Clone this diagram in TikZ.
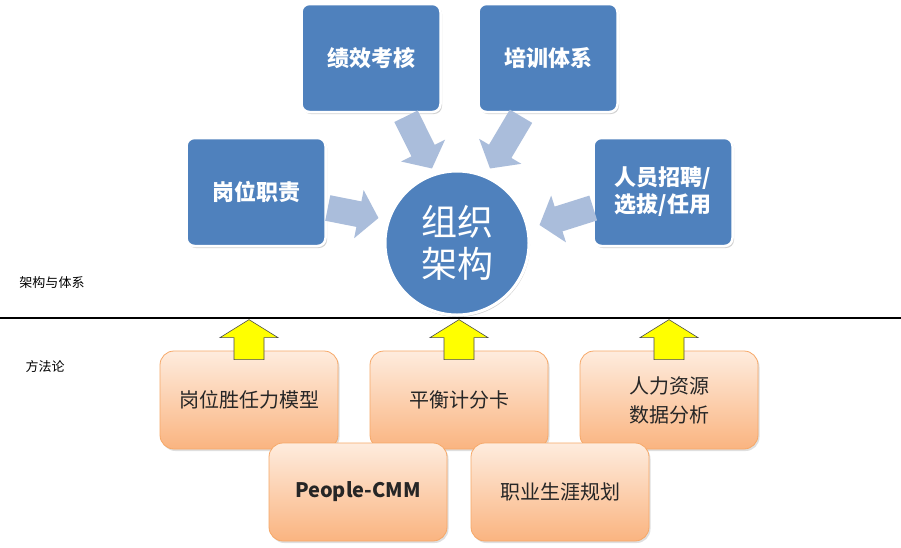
\documentclass[tikz,border=0pt]{standalone}
\usepackage{fontspec}
\setmainfont{Noto Sans CJK SC}
\usetikzlibrary{arrows.meta,shadows,calc}

\definecolor{boxblue}{RGB}{79,129,189}
\definecolor{flowblue}{RGB}{170,189,219}
\definecolor{peachtop}{RGB}{254,236,222}
\definecolor{peachbot}{RGB}{250,180,128}
\definecolor{peachline}{RGB}{246,168,104}
\definecolor{liftyellow}{RGB}{255,255,0}

\tikzset{
  topic/.style={draw=white, line width=2.5pt, fill=boxblue, rounded corners=8pt,
    text=white, font=\bfseries\fontsize{22}{27}\selectfont, align=center,
    minimum width=139pt, minimum height=108pt,
    drop shadow={opacity=0.35, shadow xshift=1.5pt, shadow yshift=-2pt}},
  hub/.style={circle, draw=white, line width=3pt, fill=boxblue, text=white,
    font=\fontsize{36}{42}\selectfont, align=center, minimum size=144pt,
    drop shadow={opacity=0.35, shadow xshift=1pt, shadow yshift=-2pt}},
  method/.style={draw=peachline, line width=0.8pt, rounded corners=14pt,
    top color=peachtop, bottom color=peachbot, text=black!85,
    font=\fontsize{20}{29}\selectfont, align=center,
    minimum width=178pt, minimum height=98pt,
    drop shadow={opacity=0.25, shadow xshift=1.5pt, shadow yshift=-2pt}},
  flow/.style={draw=flowblue, line width=26pt,
    -{Triangle[width=48pt,length=20pt]}},
  lift/.style={draw=black!70, line width=0.6pt, fill=liftyellow},
  tag/.style={font=\fontsize{13}{15}\selectfont}
}

\begin{document}
\begin{tikzpicture}[x=1pt,y=-1pt]
\fill[white] (0,0) rectangle (901,547);
\useasboundingbox (0,0) rectangle (901,547);

% upper half: structure
\node[topic] (perf) at (371,58) {绩效考核};
\node[topic] (train) at (548,58) {培训体系};
\node[topic] (duty) at (256,192) {岗位职责};
\node[topic] (recruit) at (663,192) {人员招聘/\\选拔/任用};
\node[hub] (org) at (457,243) {组织\\架构};

\draw[flow] ($(duty.east)+(1,16)$) -- ($(org.west)+(-5,-25)$);
\draw[flow] ($(perf.south)+(35,3)$) -- ($(org.north)+(-25,-1)$);
\draw[flow] ($(train.south)+(-27,3)$) -- ($(org.north)+(33,-1)$);
\draw[flow] ($(recruit.west)+(1,16)$) -- ($(org.east)+(9,-18)$);

\draw[line width=2.5pt] (0,318) -- (901,318);
\node[tag] (lblarch) at (52,283) {架构与体系};
\node[tag] (lblmeth) at (45,367) {方法论};

% lower half: methods
\node[method] (comp) at (249,400) {岗位胜任力模型};
\node[method] (bsc) at (459,400) {平衡计分卡};
\node[method] (hrda) at (669,400) {人力资源\\数据分析};
\node[method] (pcmm) at (358,492) {\bfseries People-CMM};
\node[method] (career) at (560,492) {职业生涯规划};

\foreach \m in {comp,bsc,hrda}
  \draw[lift] ([shift={(-15,9)}]\m.north) -- ([shift={(-15,-13)}]\m.north)
    -- ([shift={(-29,-13)}]\m.north) -- ([shift={(0,-31)}]\m.north)
    -- ([shift={(29,-13)}]\m.north) -- ([shift={(15,-13)}]\m.north)
    -- ([shift={(15,9)}]\m.north) -- cycle;
\end{tikzpicture}
\end{document}
